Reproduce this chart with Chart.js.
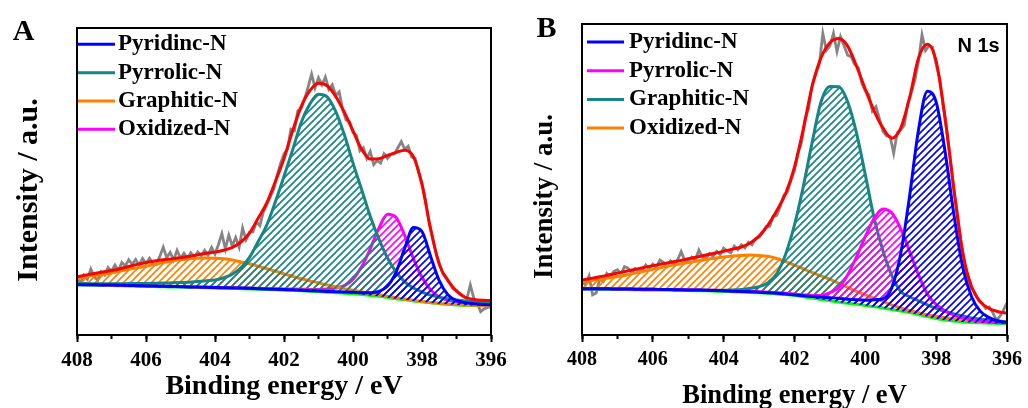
<!DOCTYPE html>
<html>
<head>
<meta charset="utf-8">
<script src="https://cdn.jsdelivr.net/npm/chart.js@4.4.1/dist/chart.umd.min.js"></script>
<style>
  body { margin: 0; background: #fff; }
  #wrap { position: relative; width: 1028px; height: 408px; }
  canvas { position: absolute; top: 0; }
  #chartA { left: 0; }
  #chartB { left: 514px; }
</style>
</head>
<body>
<div id="wrap">
  <canvas id="chartA" width="514" height="408"></canvas>
  <canvas id="chartB" width="514" height="408"></canvas>
</div>
<script>
// Binding energy grid for fitted curves (eV)
const energy = [408,407.75,407.5,407.25,407,406.75,406.5,406.25,406,405.75,405.5,405.25,405,404.75,404.5,404.25,
  404,403.75,403.5,403.25,403,402.75,402.5,402.25,402,401.75,401.5,401.25,401,400.75,400.5,400.25,
  400,399.75,399.5,399.25,399,398.75,398.5,398.25,398,397.75,397.5,397.25,397,396.75,396.5,396.25,396];

// Binding energy grid for the raw spectra (eV)
const rawEnergy = [408.0,407.9,407.8,407.7,407.6,407.5,407.4,407.3,407.2,407.1,
  407.0,406.9,406.8,406.7,406.6,406.5,406.4,406.3,406.2,406.1,
  406.0,405.9,405.8,405.7,405.6,405.5,405.4,405.3,405.2,405.1,
  405.0,404.9,404.8,404.7,404.6,404.5,404.4,404.3,404.2,404.1,
  404.0,403.9,403.8,403.7,403.6,403.5,403.4,403.3,403.2,403.1,
  403.0,402.9,402.8,402.7,402.6,402.5,402.4,402.3,402.2,402.1,
  402.0,401.9,401.8,401.7,401.6,401.5,401.4,401.3,401.2,401.1,
  401.0,400.9,400.8,400.7,400.6,400.5,400.4,400.3,400.2,400.1,
  400.0,399.9,399.8,399.7,399.6,399.5,399.4,399.3,399.2,399.1,
  399.0,398.9,398.8,398.7,398.6,398.5,398.4,398.3,398.2,398.1,
  398.0,397.9,397.8,397.7,397.6,397.5,397.4,397.3,397.2,397.1,
  397.0,396.9,396.8,396.7,396.6,396.5,396.4,396.3,396.2,396.1,396.0];

const xTicks = { min: 396, max: 408, major: 2, minor: 1 };

// ---- Panel A (intensity, a.u.) ----
const rawA = [18.5,17.0,19.5,18.2,21.5,19.0,17.8,20.6,19.5,22.0,
  20.8,22.8,21.0,23.6,22.5,24.5,23.0,24.6,22.8,24.9,
  23.2,25.0,23.4,22.9,25.6,28.6,25.2,26.9,24.4,27.6,
  25.0,26.6,24.9,26.8,25.3,27.0,25.8,27.6,26.0,28.5,
  26.4,29.5,33.0,28.0,32.5,29.0,31.8,28.6,34.8,31.0,
  33.5,33.6,36.8,35.6,40.0,42.5,45.0,47.5,52.0,55.8,
  59.0,60.5,67.0,66.5,73.0,73.8,77.0,80.8,85.0,80.5,
  83.8,81.5,84.0,80.0,81.5,78.0,79.2,73.5,70.0,69.5,
  66.0,65.0,60.0,61.0,57.5,59.8,55.5,56.8,56.0,59.0,
  57.5,58.8,59.0,61.0,63.0,60.5,61.5,58.0,57.5,53.0,
  49.5,44.0,37.0,32.0,27.0,23.5,20.0,18.5,17.0,15.0,
  14.5,13.5,12.5,11.8,16.3,12.0,10.5,7.6,8.5,9.0,9.2];
const envelopeA = [19.0,19.5,20.0,20.5,21.0,21.6,22.3,23.0,23.6,24.1,24.5,24.8,25.2,25.6,26.1,26.6,
  27.0,27.6,28.5,30.3,33.2,38.0,43.0,50.0,57.5,66.5,74.5,79.6,82.0,81.2,77.7,72.5,
  66.5,60.5,57.3,57.4,58.5,59.5,60.2,58.1,49.0,34.5,23.0,17.8,14.3,12.3,11.6,11.3,11.2];
const pyridinicA = [16.45,16.4,16.35,16.3,16.25,16.2,16.15,16.05,16.0,15.95,15.85,15.8,15.75,15.65,15.6,15.55,
  15.45,15.4,15.35,15.3,15.2,15.1,15.0,14.9,14.8,14.7,14.6,14.45,14.35,14.2,14.1,14.0,
  13.9,13.8,13.8,14.2,15.95,20.5,28.3,35.0,33.7,25.6,17.7,13.1,11.2,10.55,10.2,9.95,9.75];
const pyrrolicA = [16.8,16.75,16.7,16.7,16.7,16.7,16.75,16.75,16.8,16.85,16.9,17.0,17.1,17.2,17.45,17.7,
  17.9,18.65,19.8,21.9,25.3,30.4,35.8,43.4,51.7,60.3,69.2,75.2,78.4,77.6,72.8,65.2,
  56.0,47.4,38.7,31.3,25.1,20.5,17.3,15.3,14.0,13.0,12.3,11.8,11.4,11.1,10.9,10.7,10.5];
const graphiticA = [18.5,19.0,19.4,19.8,20.2,20.8,21.4,21.9,22.4,23.0,23.6,24.1,24.5,24.8,25.0,25.1,
  25.0,24.8,24.4,23.8,23.2,22.4,21.6,20.8,19.9,19.1,18.3,17.6,17.0,16.3,15.7,15.1,
  14.6,14.1,13.6,13.1,12.6,12.1,11.7,11.3,10.9,10.6,10.3,10.1,9.9,9.8,9.7,9.6,9.5];
const oxidizedA = [16.45,16.4,16.35,16.3,16.25,16.2,16.15,16.1,16.05,16.0,15.9,15.85,15.8,15.7,15.65,15.6,
  15.55,15.5,15.45,15.4,15.3,15.2,15.1,15.05,15.0,14.95,14.9,14.85,14.85,14.95,15.3,16.1,
  18.2,22.2,28.1,34.8,39.3,38.3,32.4,24.9,18.8,14.7,12.4,11.3,10.8,10.4,10.15,10.0,9.8];
const backgroundA = [16.3,16.25,16.2,16.15,16.1,16.05,16.0,15.9,15.85,15.8,15.7,15.65,15.6,15.5,15.45,15.4,
  15.3,15.25,15.2,15.1,15.0,14.9,14.8,14.7,14.6,14.5,14.4,14.25,14.1,13.95,13.8,13.6,
  13.4,13.2,12.9,12.6,12.2,11.8,11.5,11.1,10.8,10.5,10.2,10.0,9.8,9.7,9.6,9.5,9.4];

// ---- Panel B (intensity, a.u.) ----
const rawB = [17.0,16.2,19.0,12.9,13.5,18.0,17.2,19.8,18.6,20.5,
  21.0,19.6,22.0,21.5,20.0,21.4,20.4,21.0,22.5,21.2,
  22.8,21.8,24.1,23.4,22.0,23.8,22.4,24.2,26.8,24.0,
  23.6,25.0,24.2,27.3,25.0,24.6,26.2,25.4,26.9,25.8,
  27.9,27.0,26.5,28.6,27.4,29.0,28.0,29.8,29.0,31.0,
  31.5,33.0,34.8,35.0,38.2,38.5,41.5,45.0,46.0,49.8,
  53.0,58.5,62.0,69.5,73.0,80.5,84.0,87.0,97.0,91.5,
  93.0,97.0,91.1,95.9,93.0,90.0,89.5,87.0,86.0,81.0,
  78.5,77.2,72.0,73.4,69.5,65.5,64.0,63.8,58.4,65.0,
  66.0,67.5,74.5,78.0,82.0,88.0,96.5,91.5,93.0,92.5,
  87.0,82.5,73.5,65.5,56.5,46.5,39.0,30.0,23.0,18.0,
  15.0,13.5,11.0,10.2,8.5,9.0,7.2,4.8,6.0,8.0,10.3];
const envelopeB = [17.7,18.2,18.7,19.3,19.9,20.5,21.1,21.7,22.3,22.8,23.4,23.9,24.5,25.1,25.7,26.3,
  26.9,27.6,28.3,29.6,31.8,35.3,40.0,45.5,54.0,66.3,80.0,89.2,94.0,95.3,92.9,86.5,
  79.0,72.0,66.5,63.3,66.5,76.3,89.0,93.5,88.0,70.0,47.0,26.5,15.5,10.6,8.5,7.5,7.0];
const pyridinicB = [14.9,14.9,14.85,14.85,14.8,14.8,14.75,14.7,14.7,14.65,14.6,14.55,14.5,14.45,14.4,14.3,
  14.2,14.1,14.0,13.9,13.75,13.6,13.4,13.2,12.9,12.6,12.4,12.2,12.0,11.8,11.5,11.3,
  11.2,11.3,11.6,15.3,26.2,44.7,65.8,78.4,74.9,59.1,38.8,21.8,12.3,7.6,5.6,4.5,4.0];
const pyrrolicB = [14.9,14.9,14.85,14.85,14.8,14.8,14.75,14.7,14.7,14.65,14.6,14.55,14.5,14.45,14.4,14.35,
  14.25,14.15,14.1,14.0,13.9,13.75,13.6,13.4,13.2,12.9,12.7,12.7,13.6,15.3,19.3,25.1,
  31.7,37.5,40.5,39.2,34.1,26.9,19.4,13.2,9.8,7.8,6.4,5.5,4.9,4.5,4.2,4.0,3.9];
const graphiticB = [14.9,14.9,14.85,14.85,14.8,14.8,14.75,14.7,14.7,14.65,14.6,14.55,14.5,14.45,14.4,14.4,
  14.4,14.5,14.6,15.0,15.5,16.8,19.8,26.0,35.4,47.8,62.0,75.0,79.9,79.8,75.0,65.0,
  51.5,37.5,27.0,19.0,14.0,12.3,11.0,9.7,8.6,7.6,6.8,6.1,5.5,5.1,4.8,4.5,4.3];
const oxidizedB = [17.1,17.5,17.9,18.3,18.8,19.3,19.9,20.5,21.1,21.7,22.3,22.8,23.3,23.8,24.3,24.7,
  25.1,25.4,25.6,25.7,25.6,25.3,24.6,23.6,22.5,21.3,20.1,19.0,17.9,16.6,15.3,14.0,
  12.9,11.8,10.8,9.6,8.7,7.9,7.2,6.5,6.0,5.6,5.2,4.9,4.7,4.5,4.4,4.35,4.3];
const backgroundB = [14.7,14.7,14.65,14.65,14.6,14.6,14.55,14.5,14.5,14.45,14.4,14.35,14.3,14.25,14.2,14.1,
  14.0,13.9,13.8,13.7,13.55,13.4,13.2,13.0,12.7,12.3,11.9,11.4,11.0,10.6,10.2,9.9,
  9.5,9.1,8.7,8.2,7.7,7.2,6.6,5.9,5.3,4.8,4.5,4.2,4.0,3.9,3.8,3.7,3.6];

const C = {
  blue: '#0000ff', teal: '#158585', orange: '#ff8000', magenta: '#ff00ff',
  red: '#ff0000', gray: '#858585', green: '#00ff00'
};
const SERIF = '"Liberation Serif", "Times New Roman", serif';

function hatch(ctx, color) {
  const c = document.createElement('canvas');
  c.width = c.height = 7;
  const g = c.getContext('2d');
  g.strokeStyle = color;
  g.lineWidth = 1.6;
  g.beginPath();
  g.moveTo(0, 7); g.lineTo(7, 0);
  g.moveTo(-1, 1); g.lineTo(1, -1);
  g.moveTo(6, 8); g.lineTo(8, 6);
  g.stroke();
  return ctx.createPattern(c, 'repeat');
}

function curve(label, values, color, extra) {
  return Object.assign({
    label: label,
    data: energy.map((x, i) => ({ x: x, y: values[i] })),
    borderColor: color,
    borderWidth: 3,
    pointRadius: 0,
    fill: false,
    cubicInterpolationMode: 'monotone'
  }, extra);
}

// frame, legend, panel letter, y title, note
const panelDecor = {
  id: 'panelDecor',
  afterDraw(chart, args, o) {
    const { ctx, chartArea: a } = chart;
    ctx.save();
    ctx.strokeStyle = '#000';
    ctx.lineWidth = 2;
    ctx.strokeRect(a.left, a.top, a.right - a.left, a.bottom - a.top);

    ctx.font = 'bold 23px ' + SERIF;
    ctx.textAlign = 'left';
    ctx.textBaseline = 'middle';
    chart.data.datasets.filter(d => d.inLegend).forEach((d, i) => {
      const y = o.legendY + i * o.legendStep;
      ctx.strokeStyle = d.borderColor;
      ctx.lineWidth = 3;
      ctx.beginPath();
      ctx.moveTo(o.legendX, y);
      ctx.lineTo(o.legendX + 37, y);
      ctx.stroke();
      ctx.fillStyle = '#000';
      ctx.fillText(d.label, o.legendX + o.legendGap, y);
    });

    ctx.fillStyle = '#000';
    ctx.textBaseline = 'alphabetic';
    ctx.textAlign = 'center';
    ctx.font = 'bold 30px ' + SERIF;
    ctx.fillText(o.letter, o.letterX, o.letterY);

    if (o.note) {
      ctx.font = 'bold 20px "Liberation Sans", Arial, sans-serif';
      ctx.fillText(o.note, o.noteX, o.noteY);
    }

    ctx.translate(o.yTitleX, o.yTitleY);
    ctx.rotate(-Math.PI / 2);
    ctx.font = 'bold ' + o.yTitleSize + 'px ' + SERIF;
    ctx.fillText('Intensity / a.u.', 0, 0);
    ctx.restore();
  }
};

function buildPanel(id, p) {
  const canvas = document.getElementById(id);
  const ctx = canvas.getContext('2d');
  const datasets = [
    curve('Envelope', p.envelope, C.red, { inLegend: false }),
    ...p.components.map(c => curve(c.label, c.values, c.color, {
      inLegend: true, fill: 5, backgroundColor: hatch(ctx, c.color)
    })),
    curve('Background', p.background, C.green, { inLegend: false }),
    {
      label: 'Raw', inLegend: false,
      data: rawEnergy.map((x, i) => ({ x: x, y: p.raw[i] })),
      borderColor: C.gray, borderWidth: 2.8, pointRadius: 0, tension: 0, fill: false
    }
  ];

  return new Chart(canvas, {
    type: 'line',
    data: { datasets: datasets },
    options: {
      responsive: false,
      animation: false,
      devicePixelRatio: 1,
      layout: { padding: { left: p.left, right: p.right, top: p.top, bottom: 0 } },
      scales: {
        x: {
          type: 'linear', position: 'bottom', reverse: true, weight: 1,
          min: xTicks.min, max: xTicks.max,
          ticks: {
            stepSize: xTicks.major, autoSkip: false, maxRotation: 0, padding: p.tickPad,
            color: '#000', font: { family: SERIF, size: p.tickSize, weight: 'bold' },
            callback: v => String(v)
          },
          grid: { drawOnChartArea: false, drawTicks: true, tickLength: 7, tickWidth: 2, tickColor: '#000' },
          border: { display: false },
          title: {
            display: true, text: 'Binding energy / eV', color: '#000',
            font: { family: SERIF, size: p.xTitleSize, weight: 'bold', lineHeight: 1 },
            padding: { top: 0, bottom: p.xTitlePad }
          },
          afterFit: s => { s.height = 73; }
        },
        x2: {
          type: 'linear', position: 'bottom', reverse: true, weight: 0,
          min: xTicks.min, max: xTicks.max,
          ticks: { stepSize: xTicks.minor, display: false },
          grid: { drawOnChartArea: false, drawTicks: true, tickLength: 4, tickWidth: 2, tickColor: '#000' },
          border: { display: false },
          afterFit: s => { s.height = 0; }
        },
        y: { display: false, min: 0, max: 100 }
      },
      plugins: {
        legend: { display: false },
        tooltip: { enabled: false },
        panelDecor: p.decor
      }
    },
    plugins: [panelDecor]
  });
}

buildPanel('chartA', {
  left: 77, right: 23, top: 28, tickPad: 6, tickSize: 21, xTitleSize: 28, xTitlePad: 7,
  raw: rawA, envelope: envelopeA, background: backgroundA,
  components: [
    { label: 'Pyridinc-N', values: pyridinicA, color: C.blue },
    { label: 'Pyrrolic-N', values: pyrrolicA, color: C.teal },
    { label: 'Graphitic-N', values: graphiticA, color: C.orange },
    { label: 'Oxidized-N', values: oxidizedA, color: C.magenta }
  ],
  decor: {
    legendX: 78, legendY: 44.3, legendStep: 28.35, legendGap: 40,
    letter: 'A', letterX: 23.5, letterY: 40,
    yTitleX: 37, yTitleY: 190, yTitleSize: 30
  }
});

buildPanel('chartB', {
  left: 68, right: 21, top: 24, tickPad: 6, tickSize: 20, xTitleSize: 26.5, xTitlePad: -1,
  raw: rawB, envelope: envelopeB, background: backgroundB,
  components: [
    { label: 'Pyridinc-N', values: pyridinicB, color: C.blue },
    { label: 'Pyrrolic-N', values: pyrrolicB, color: C.magenta },
    { label: 'Graphitic-N', values: graphiticB, color: C.teal },
    { label: 'Oxidized-N', values: oxidizedB, color: C.orange }
  ],
  decor: {
    legendX: 73, legendY: 42, legendStep: 28.7, legendGap: 42,
    letter: 'B', letterX: 32.5, letterY: 37,
    note: 'N 1s', noteX: 464.5, noteY: 52,
    yTitleX: 37.5, yTitleY: 196.5, yTitleSize: 27
  }
});
</script>
</body>
</html>
